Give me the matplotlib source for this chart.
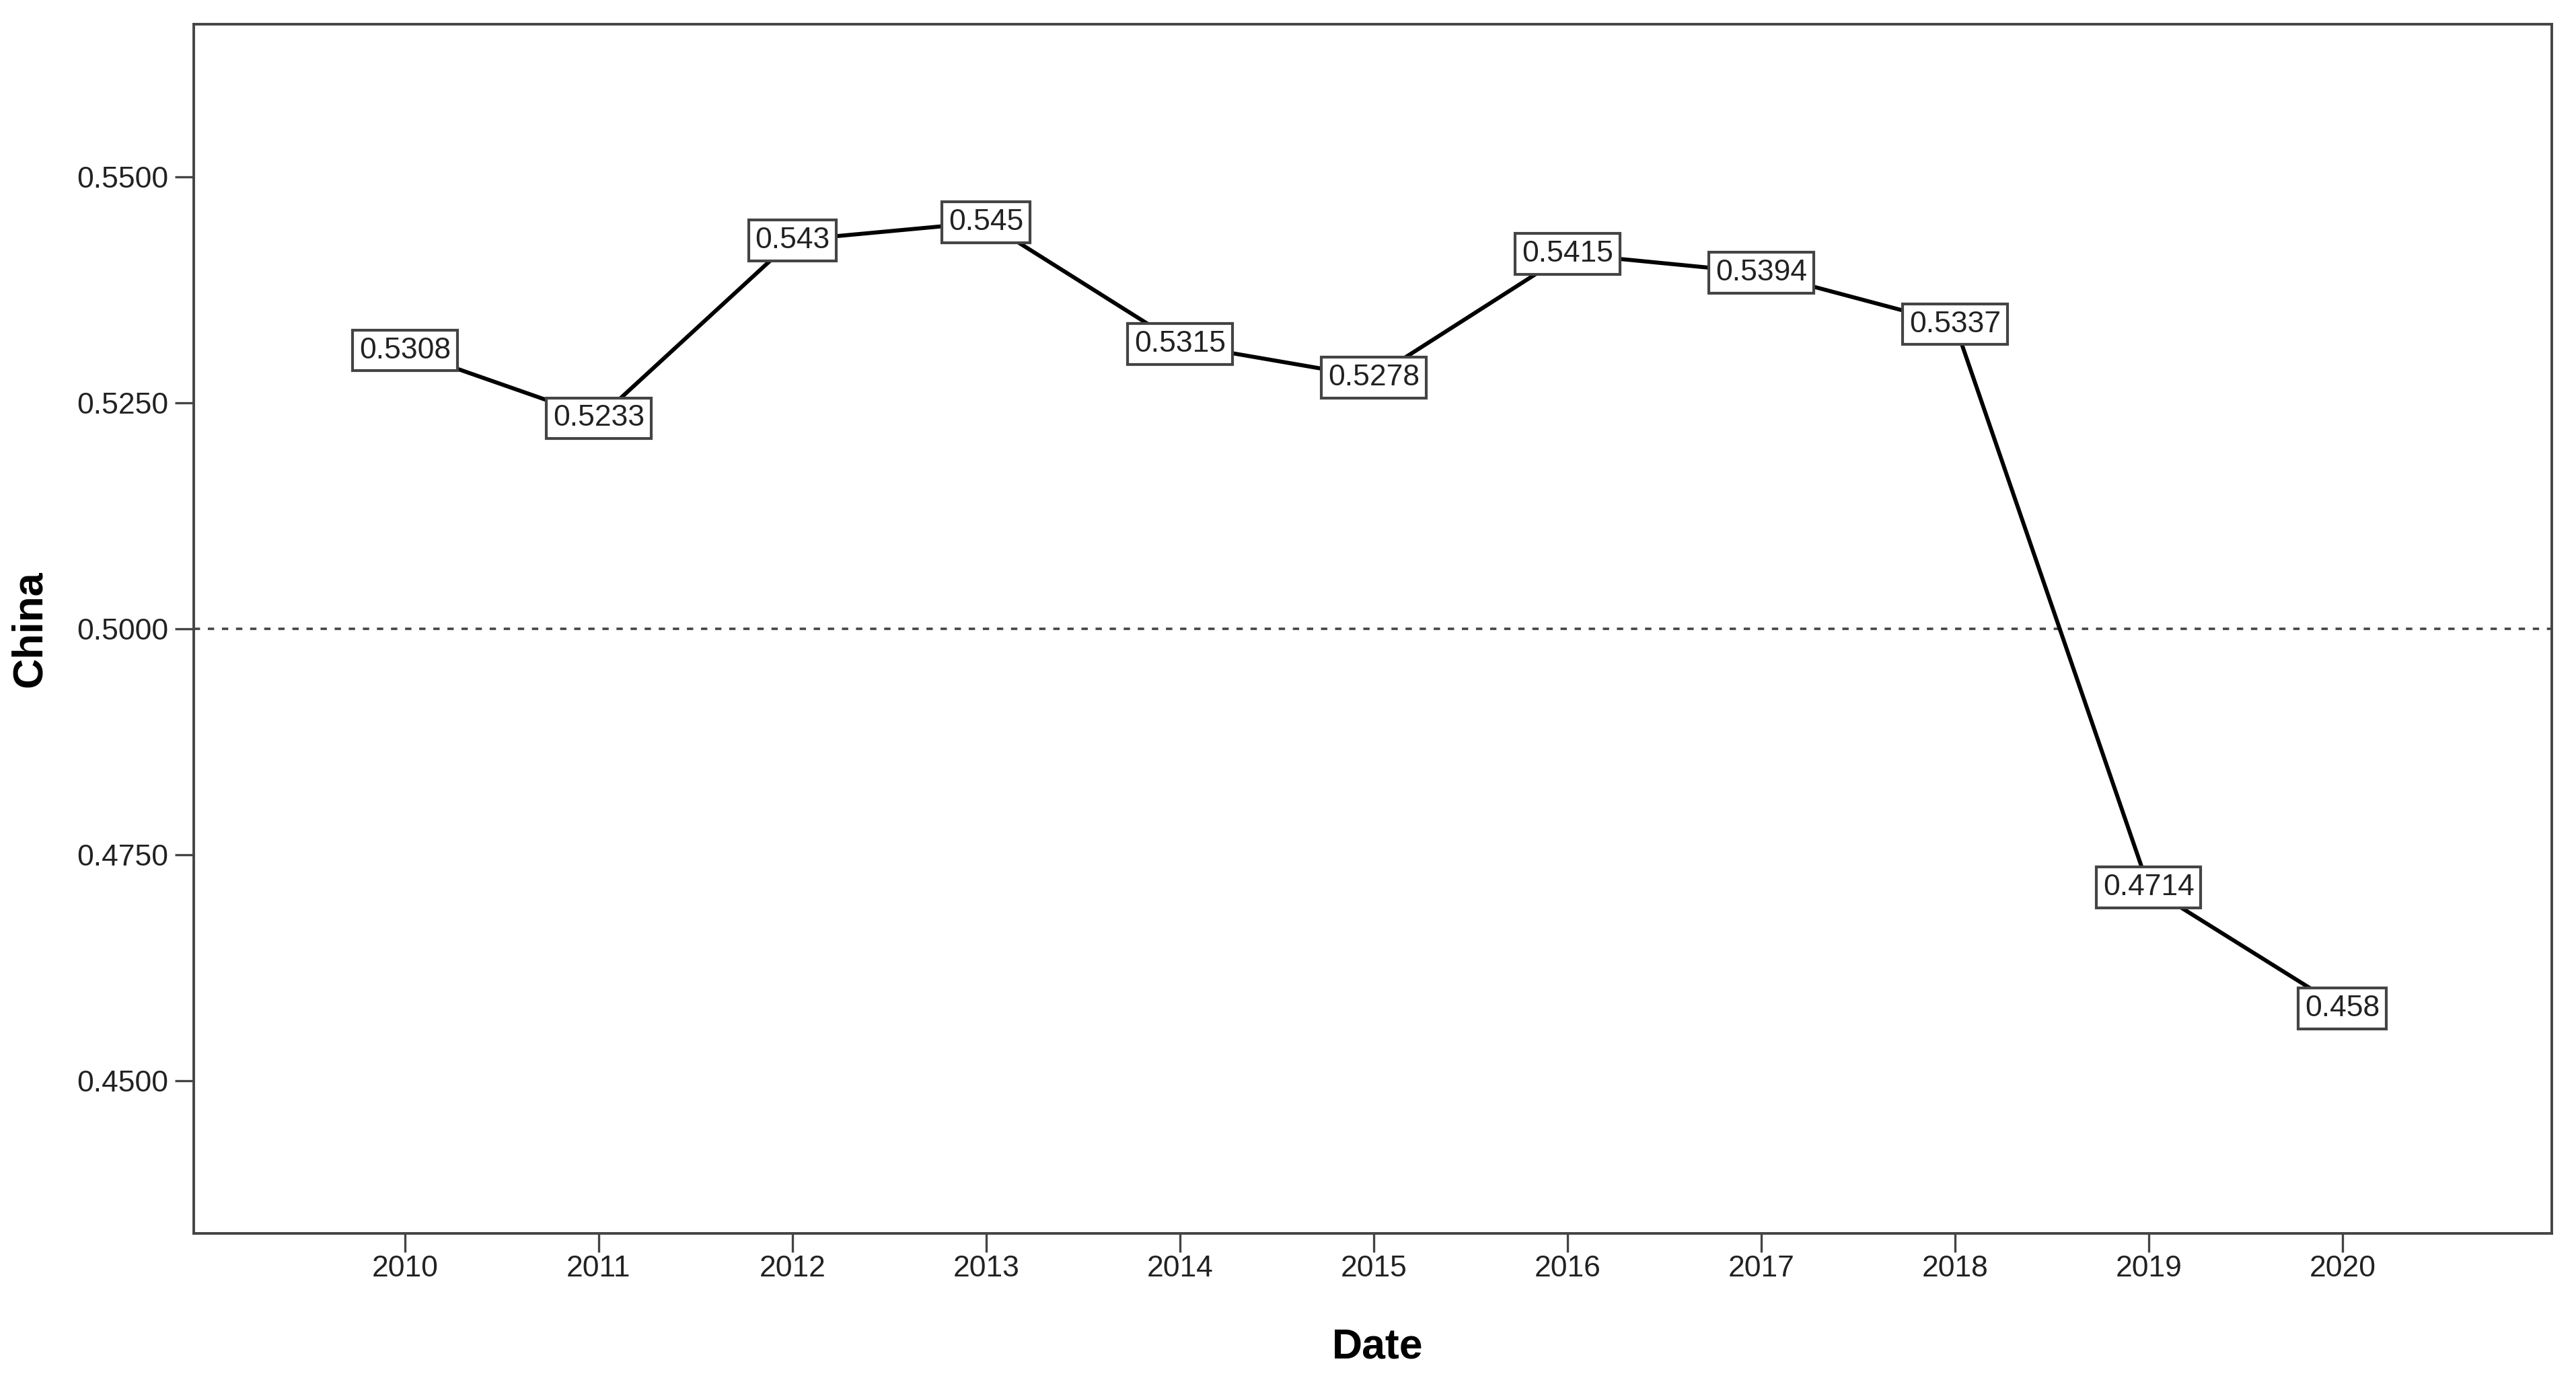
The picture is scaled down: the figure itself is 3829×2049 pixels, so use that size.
import matplotlib
matplotlib.use("Agg")
import matplotlib.pyplot as plt

years = [2010, 2011, 2012, 2013, 2014, 2015, 2016, 2017, 2018, 2019, 2020]
values = [0.5308, 0.5233, 0.543, 0.545, 0.5315, 0.5278, 0.5415, 0.5394, 0.5337, 0.4714, 0.458]
labels = ["0.5308", "0.5233", "0.543", "0.545", "0.5315", "0.5278", "0.5415", "0.5394", "0.5337", "0.4714", "0.458"]
yticks = [0.45, 0.475, 0.50, 0.525, 0.55]
ref_value = 0.5

plt.rcParams['font.family'] = ['Liberation Sans', 'DejaVu Sans']

fig = plt.figure(figsize=(38.3, 20.49), dpi=100)
ax = fig.add_axes([0.0752, 0.1049, 0.9903 - 0.0752, 0.9824 - 0.1049])

spine_col = '#444444'
text_col = '#222222'

ax.plot(years, values, color='black', lw=4.3, zorder=2, solid_joinstyle='round')
ax.axhline(ref_value, color='#444444', lw=2.6, dashes=(2.6, 3.2), zorder=1)

for x, y, s in zip(years, values, labels):
    ax.text(x, y, s, ha='center', va='center', fontsize=32, color=text_col, zorder=3,
            bbox=dict(boxstyle='square,pad=0.22', facecolor='white', edgecolor=spine_col, linewidth=3))

ax.set_xlim(2008.91, 2021.08)
ax.set_ylim(0.4331, 0.5669)
ax.set_xticks(years)
ax.set_xticklabels([str(y) for y in years])
ax.set_yticks(yticks)
ax.set_yticklabels([f"{v:.4f}" for v in yticks])

for sp in ax.spines.values():
    sp.set_color(spine_col)
    sp.set_linewidth(2.8)

ax.tick_params(axis='both', which='major', length=20, width=2.4, color=spine_col,
               labelsize=32, labelcolor=text_col, direction='out')
ax.tick_params(axis='y', pad=7)
ax.tick_params(axis='x', pad=3)

ax.set_xlabel('Date', fontsize=45, fontweight='bold', color='black', va='center', ha='center')
ax.xaxis.set_label_coords(0.502, -0.094)
ax.set_ylabel('China', fontsize=45, fontweight='bold', color='black', va='center', ha='center')
ax.yaxis.set_label_coords(-0.0696, 0.5)

fig.savefig('out.png', dpi=100, facecolor='white')
